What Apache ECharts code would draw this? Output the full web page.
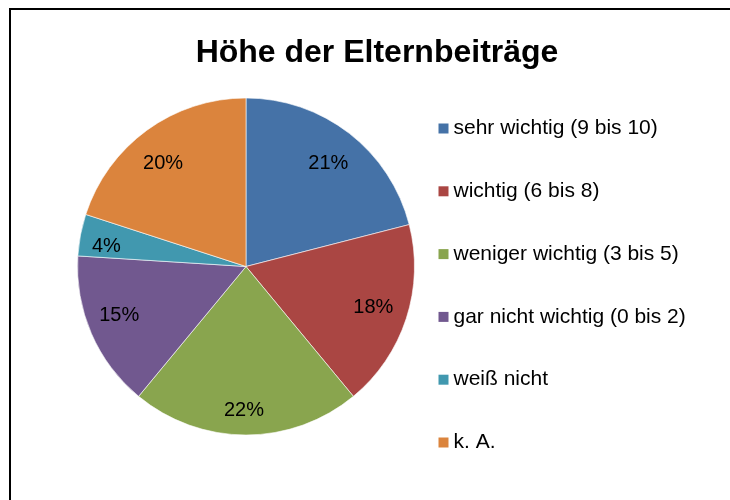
<!DOCTYPE html>
<html>
<head>
<meta charset="utf-8">
<script src="https://cdn.jsdelivr.net/npm/echarts@6/dist/echarts.min.js"></script>
<style>
  html, body { margin: 0; padding: 0; background: #fff; }
  #chart { width: 730px; height: 500px; }
</style>
</head>
<body>
<div id="chart"></div>
<script>
// Survey answers: importance of the level of parental fees (percent)
const titleText = 'Höhe der Elternbeiträge';
const categories = [
  'sehr wichtig (9 bis 10)',
  'wichtig (6 bis 8)',
  'weniger wichtig (3 bis 5)',
  'gar nicht wichtig (0 bis 2)',
  'weiß nicht',
  'k. A.'
];
const shares = [21, 18, 22, 15, 4, 20];

// slice colours and small per-label nudges (px) for the percentage texts
const colors = ['#4572A7', '#AA4643', '#89A54E', '#71588F', '#4198AF', '#DB843D'];
const labelNudge = [[-1, 4], [-2, -1], [-2, 8], [-2, -5], [-6, 5], [-3, 7]];

const FONT = 'Liberation Sans, Arial, sans-serif';
const center = [246, 266.5];
const radius = 168.5;

const pieData = categories.map((name, i) => ({ name, value: shares[i] }));
const labelData = categories.map((name, i) => ({
  name,
  value: shares[i],
  label: { offset: labelNudge[i] }
}));

const chart = echarts.init(document.getElementById('chart'), null, { renderer: 'canvas' });
chart.setOption({
  animation: false,
  backgroundColor: '#fff',
  color: colors,
  title: {
    text: titleText,
    left: 377,
    top: 37,
    textAlign: 'center',
    padding: 0,
    textStyle: { fontFamily: FONT, fontSize: 32, fontWeight: 'bold', color: '#000', lineHeight: 32 }
  },
  legend: {
    orient: 'vertical',
    left: 438.5,
    top: 118,
    padding: 0,
    itemWidth: 10,
    itemHeight: 10,
    itemGap: 41.8,
    icon: 'rect',
    selectedMode: false,
    data: categories,
    itemStyle: { borderWidth: 0 },
    textStyle: { fontFamily: FONT, fontSize: 21, color: '#000', lineHeight: 21 }
  },
  graphic: [{
    type: 'rect',
    shape: { x: 10, y: 9, width: 760, height: 540 },
    style: { fill: 'none', stroke: '#000', lineWidth: 2 },
    silent: true,
    z: 100
  }],
  series: [
    {
      // the pie slices
      type: 'pie',
      center: center,
      radius: [0, radius],
      startAngle: 90,
      clockwise: true,
      data: pieData,
      label: { show: false },
      labelLine: { show: false },
      itemStyle: { borderColor: '#fff', borderWidth: 0.6 },
      emphasis: { disabled: true }
    },
    {
      // percentage labels placed in the outer part of each slice
      type: 'pie',
      center: center,
      radius: [96, 170],
      startAngle: 90,
      clockwise: true,
      data: labelData,
      silent: true,
      itemStyle: { color: 'rgba(0,0,0,0)' },
      label: {
        show: true,
        position: 'inside',
        formatter: p => p.value + '%',
        fontFamily: FONT,
        fontSize: 20,
        color: '#000'
      },
      labelLine: { show: false },
      emphasis: { disabled: true },
      legendHoverLink: false
    }
  ]
});
</script>
</body>
</html>
